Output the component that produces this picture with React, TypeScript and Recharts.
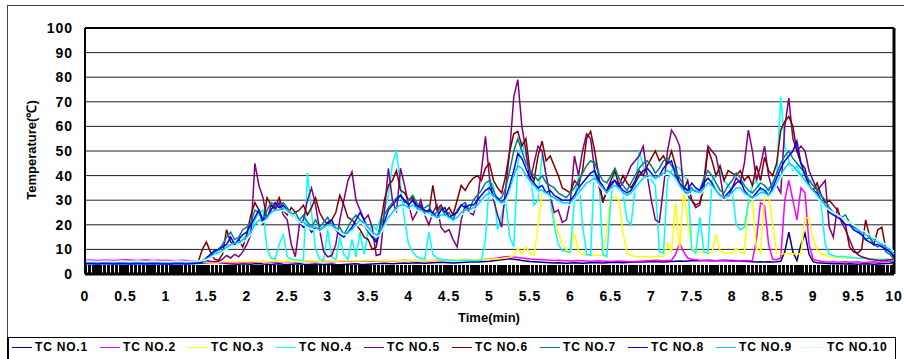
import React from "react";
import { LineChart, Line, XAxis, YAxis, CartesianGrid, ReferenceLine } from "recharts";

// time axis: one sample every 0.05 min
const TIME = Array.from({ length: 201 }, (_, i) => Math.round(i * 5) / 100);
const X_TICKS = [0, 0.5, 1, 1.5, 2, 2.5, 3, 3.5, 4, 4.5, 5, 5.5, 6, 6.5, 7, 7.5, 8, 8.5, 9, 9.5, 10];
const Y_TICKS = [0, 10, 20, 30, 40, 50, 60, 70, 80, 90, 100];

const TC1 = [
  4.3, 4.4, 4.3, 4.2, 4.3, 4.4, 4.3, 4.3, 4.2, 4.3, 4.4, 4.3, 4.2, 4.3, 4.3, 4.4, 4.3, 4.2, 4.3, 4.3,
  4.3, 4.2, 4.3, 4.4, 4.3, 4.2, 4.3, 4.3, 4.4, 4.5, 4.6, 4.8, 5.0, 4.7, 4.5, 4.3, 4.2, 4.1, 4.0, 4.2,
  4.1, 4.0, 4.2, 4.3, 4.1, 4.0, 3.9, 4.1, 4.2, 4.0, 3.9, 4.0, 4.1, 4.2, 4.0, 3.9, 4.0, 4.1, 4.0, 3.9,
  4.0, 4.1, 3.9, 3.8, 3.9, 4.0, 4.1, 4.2, 4.0, 3.9, 4.0, 4.1, 4.2, 4.3, 4.4, 4.3, 4.2, 4.3, 4.4, 4.5,
  4.4, 4.5, 4.6, 4.5, 4.4, 4.5, 4.6, 4.7, 4.8, 4.7, 4.6, 4.5, 4.6, 4.7, 4.8, 4.9, 5.0, 4.9, 5.0, 5.1,
  5.2, 5.4, 5.6, 5.8, 6.0, 6.2, 6.0, 5.8, 5.5, 5.3, 5.1, 5.0, 4.9, 4.8, 4.7, 4.6, 4.5, 4.6, 4.5, 4.4,
  4.5, 4.6, 4.5, 4.4, 4.5, 4.6, 4.7, 4.6, 4.5, 4.6, 4.7, 4.8, 4.7, 4.6, 4.7, 4.8, 4.9, 5.0, 4.9, 5.0,
  5.0, 5.1, 5.0, 4.9, 5.0, 5.1, 5.2, 5.3, 5.2, 5.3, 5.4, 5.5, 5.4, 5.5, 5.6, 5.5, 5.4, 5.5, 5.6, 5.5,
  5.5, 5.4, 5.3, 5.2, 5.1, 5.0, 4.9, 5.0, 4.9, 5.0, 4.9, 5.0, 5.2, 9.0, 17.0, 9.0, 5.5, 12.0, 16.5, 8.0,
  5.0, 4.6, 4.5, 4.4, 4.3, 4.2, 4.3, 4.2, 4.1, 4.2, 4.1, 4.0, 4.1, 4.2, 4.1, 4.0, 4.1, 4.2, 4.3, 4.4,
  4.8,
];

const TC2 = [
  5.6, 5.7, 5.6, 5.5, 5.6, 5.7, 5.6, 5.5, 5.6, 5.7, 5.8, 5.7, 5.6, 5.5, 5.6, 5.7, 5.6, 5.5, 5.6, 5.5,
  5.6, 5.5, 5.4, 5.5, 5.6, 5.5, 5.4, 5.3, 5.2, 5.0, 4.8, 4.6, 4.7, 4.8, 4.7, 4.6, 4.5, 4.6, 4.7, 4.6,
  4.7, 4.8, 4.9, 5.0, 5.1, 5.0, 4.9, 4.8, 4.9, 5.0, 5.1, 5.0, 4.9, 5.0, 5.1, 5.2, 5.1, 5.0, 5.1, 5.2,
  5.1, 5.0, 5.1, 5.2, 5.3, 5.2, 5.1, 5.2, 5.3, 5.4, 5.3, 5.2, 5.3, 5.4, 5.5, 5.4, 5.3, 5.4, 5.5, 5.6,
  5.5, 5.4, 5.5, 5.6, 5.5, 5.4, 5.5, 5.6, 5.7, 5.6, 5.5, 5.6, 5.7, 5.8, 5.9, 5.8, 5.7, 5.8, 5.9, 6.0,
  6.1, 6.3, 6.5, 6.8, 7.0, 7.1, 6.9, 6.7, 6.5, 6.3, 6.1, 6.0, 5.9, 5.8, 5.7, 5.6, 5.5, 5.6, 5.5, 5.4,
  5.3, 5.4, 5.5, 5.4, 5.3, 5.2, 5.3, 5.4, 5.3, 5.2, 5.1, 5.2, 5.3, 5.2, 5.1, 5.0, 5.1, 5.2, 5.3, 5.4,
  5.5, 5.6, 5.5, 5.4, 5.5, 5.6, 8.0, 12.5, 9.0, 6.5, 6.0, 5.8, 5.6, 5.5, 5.4, 5.3, 5.4, 5.5, 5.4, 5.3,
  5.2, 5.3, 5.4, 5.5, 5.4, 5.5, 14.0, 29.0, 28.0, 12.0, 6.0, 5.8, 6.5, 30.0, 38.0, 30.0, 22.0, 35.0, 33.0, 12.0,
  6.0, 5.5, 5.2, 5.0, 4.9, 5.0, 4.8, 4.9, 5.0, 4.8, 4.9, 5.0, 4.8, 4.7, 4.9, 5.0, 4.8, 4.9, 5.0, 5.2,
  5.5,
];

const TC3 = [
  4.8, 4.9, 4.8, 4.7, 4.8, 4.9, 4.8, 4.7, 4.8, 4.9, 4.8, 4.7, 4.8, 4.9, 4.8, 4.7, 4.8, 4.9, 4.8, 4.7,
  4.8, 4.7, 4.8, 4.9, 4.8, 4.7, 4.6, 4.7, 4.8, 4.9, 5.0, 4.9, 4.8, 4.9, 5.0, 5.1, 5.0, 4.9, 5.0, 5.1,
  5.0, 5.1, 5.2, 5.1, 5.0, 5.1, 5.2, 5.3, 5.2, 5.1, 5.2, 5.3, 5.2, 5.1, 5.2, 5.3, 5.4, 5.3, 5.2, 5.3,
  5.4, 5.3, 5.2, 5.3, 5.4, 5.5, 5.4, 5.3, 5.4, 5.5, 5.6, 5.5, 5.4, 5.5, 5.6, 5.5, 5.4, 5.5, 5.6, 5.5,
  5.6, 5.5, 5.6, 5.7, 5.6, 5.5, 5.6, 5.7, 5.8, 5.7, 5.6, 5.7, 5.8, 5.9, 5.8, 5.7, 5.8, 5.9, 6.0, 5.9,
  6.0, 6.1, 6.2, 6.3, 6.5, 6.8, 7.5, 10.5, 8.0, 11.0, 8.5, 7.5, 20.0, 33.0, 33.5, 32.5, 22.0, 17.0, 12.0, 10.0,
  8.5, 16.5, 9.0, 8.0, 7.8, 7.6, 7.5, 7.6, 7.4, 18.0, 31.0, 31.5, 30.0, 17.0, 8.5, 7.5, 7.2, 7.0, 7.1, 7.0,
  7.1, 7.0, 7.2, 7.1, 12.5, 9.0, 29.0, 10.0, 35.0, 21.0, 11.0, 9.0, 8.8, 8.6, 8.5, 8.6, 16.0, 9.5, 8.6, 8.5,
  8.4, 10.5, 8.6, 8.5, 29.0, 29.5, 10.0, 8.5, 32.0, 32.5, 20.0, 8.5, 8.3, 8.2, 8.3, 8.2, 8.1, 8.2, 23.0, 22.5,
  14.0, 10.0, 8.0, 7.5, 7.0, 6.8, 6.7, 6.6, 6.5, 6.4, 6.5, 6.4, 6.3, 6.2, 6.3, 6.2, 6.1, 6.0, 6.1, 6.0,
  6.0,
];

const TC4 = [
  5.0, 5.1, 5.0, 4.9, 5.0, 5.1, 5.0, 4.9, 5.0, 5.1, 5.0, 4.9, 5.0, 5.1, 5.0, 4.9, 5.0, 5.1, 5.0, 4.9,
  5.0, 4.9, 5.0, 5.1, 5.0, 4.9, 5.0, 5.0, 5.2, 5.6, 6.5, 7.5, 8.0, 9.5, 11.0, 10.0, 12.0, 13.0, 12.5, 14.0,
  16.0, 18.0, 22.0, 25.0, 26.0, 10.0, 6.5, 6.0, 12.0, 16.0, 7.0, 6.0, 5.8, 5.6, 5.5, 41.0, 25.0, 10.0, 6.0, 5.5,
  18.0, 7.0, 5.8, 15.0, 8.0, 6.0, 14.0, 7.0, 17.0, 8.0, 17.0, 20.0, 18.0, 22.0, 26.0, 32.0, 45.0, 50.0, 36.0, 22.0,
  12.0, 9.0, 7.0, 6.5, 6.0, 17.0, 8.0, 6.5, 6.0, 5.8, 5.6, 5.5, 5.4, 5.5, 5.6, 5.5, 5.4, 5.5, 5.6, 14.0,
  38.0, 36.0, 18.0, 24.0, 30.0, 15.0, 11.0, 45.0, 54.0, 48.0, 42.0, 28.0, 30.0, 49.0, 40.0, 30.0, 20.0, 12.0, 9.5, 9.0,
  9.0, 30.0, 40.0, 20.0, 8.0, 7.5, 46.0, 42.0, 8.0, 7.0, 30.0, 43.0, 36.0, 33.0, 22.0, 20.0, 35.0, 50.0, 44.0, 40.0,
  38.0, 36.0, 9.0, 8.5, 38.0, 42.0, 44.0, 43.0, 40.0, 38.0, 10.0, 8.5, 23.0, 9.0, 8.5, 38.0, 40.0, 42.0, 38.0, 36.0,
  34.0, 20.0, 18.0, 19.0, 29.0, 36.0, 38.0, 34.0, 33.0, 35.0, 36.0, 40.0, 72.0, 52.0, 46.0, 42.0, 44.0, 40.0, 42.0, 38.0,
  38.0, 35.0, 28.0, 12.0, 8.0, 7.5, 7.0, 7.2, 7.0, 6.8, 6.6, 6.5, 6.4, 6.3, 6.2, 6.0, 5.9, 5.8, 6.0, 5.8,
  5.5,
];

const TC5 = [
  4.5, 4.6, 4.5, 4.4, 4.5, 4.6, 4.5, 4.4, 4.5, 4.6, 4.5, 4.4, 4.5, 4.6, 4.5, 4.4, 4.5, 4.6, 4.5, 4.4,
  4.5, 4.4, 4.5, 4.6, 4.5, 4.4, 4.5, 4.6, 4.8, 5.2, 5.5, 5.2, 5.0, 5.2, 6.0, 7.5, 6.5, 8.0, 7.0, 9.0,
  12.0, 16.0, 45.0, 36.0, 31.0, 22.0, 28.0, 26.0, 29.0, 24.0, 22.0, 12.0, 7.0, 20.0, 22.0, 30.0, 35.0, 28.0, 18.0, 9.0,
  7.0, 7.5, 12.0, 22.0, 30.0, 38.0, 41.5, 30.0, 26.0, 22.0, 24.0, 19.0, 7.5, 8.0, 25.0, 43.0, 30.0, 25.0, 43.0, 36.0,
  28.0, 22.0, 25.0, 30.0, 24.0, 20.0, 25.0, 28.0, 19.0, 17.0, 18.0, 14.0, 11.0, 22.0, 28.0, 25.0, 24.0, 30.0, 42.0, 56.0,
  39.0, 30.0, 24.0, 19.0, 35.0, 50.0, 72.0, 79.0, 60.0, 50.0, 38.0, 45.0, 52.0, 50.0, 40.0, 32.0, 25.0, 26.0, 21.0, 22.0,
  30.0, 48.0, 40.0, 50.0, 57.0, 55.0, 42.0, 36.0, 30.0, 33.0, 36.0, 38.0, 35.0, 37.0, 40.0, 44.0, 46.0, 48.0, 52.0, 40.0,
  30.0, 22.0, 21.0, 35.0, 50.0, 58.5, 56.0, 52.0, 34.0, 32.0, 30.0, 27.0, 28.0, 38.0, 52.0, 50.0, 48.0, 40.0, 30.0, 31.0,
  35.0, 39.0, 37.0, 45.0, 58.5, 50.0, 38.0, 44.0, 52.0, 40.0, 34.0, 36.0, 33.0, 60.0, 71.5, 55.0, 50.0, 52.0, 50.0, 42.0,
  38.0, 34.0, 36.0, 38.0, 19.0, 15.0, 27.0, 21.0, 18.0, 14.0, 10.0, 8.0, 7.0, 6.5, 6.0, 5.8, 5.6, 5.5, 5.6, 5.8,
  6.0,
];

const TC6 = [
  4.6, 4.5, 4.6, 4.7, 4.6, 4.5, 4.6, 4.7, 4.6, 4.5, 4.6, 4.7, 4.6, 4.5, 4.6, 4.7, 4.6, 4.5, 4.6, 4.7,
  4.6, 4.5, 4.6, 4.7, 4.6, 4.5, 4.6, 4.7, 5.0, 10.0, 13.0, 9.0, 6.0, 5.5, 8.0, 18.0, 13.0, 12.0, 14.0, 11.0,
  16.0, 24.0, 29.0, 26.0, 20.0, 31.0, 28.0, 27.0, 31.0, 26.0, 24.0, 27.0, 25.0, 26.0, 28.0, 24.0, 27.0, 31.0, 25.0, 22.0,
  20.0, 22.0, 25.0, 32.0, 28.0, 23.0, 22.0, 20.0, 18.0, 15.0, 14.0, 10.0, 11.0, 20.0, 30.0, 36.0, 38.0, 42.0, 34.0, 33.0,
  30.0, 31.0, 28.0, 27.0, 26.0, 25.0, 36.0, 26.0, 28.0, 25.0, 27.0, 24.0, 30.0, 36.0, 34.0, 37.0, 39.0, 40.0, 38.0, 43.0,
  45.0, 38.0, 35.0, 33.0, 40.0, 50.0, 57.0, 58.0, 52.0, 55.0, 42.0, 38.0, 48.0, 54.0, 46.0, 48.0, 44.0, 40.0, 35.0, 34.0,
  33.0, 38.0, 36.0, 42.0, 55.0, 58.0, 50.0, 40.0, 29.0, 34.0, 38.0, 42.0, 36.0, 40.0, 37.0, 35.0, 38.0, 42.0, 40.0, 44.0,
  47.0, 50.0, 46.0, 48.0, 45.0, 50.0, 44.0, 36.0, 34.0, 38.0, 30.0, 28.0, 29.0, 35.0, 51.0, 46.0, 40.0, 44.0, 38.0, 42.0,
  41.0, 40.0, 42.0, 38.0, 40.0, 36.0, 44.0, 38.0, 47.5, 42.0, 40.0, 45.0, 58.5, 62.0, 64.0, 60.0, 50.0, 45.0, 43.0, 36.0,
  34.0, 37.0, 32.0, 29.0, 30.0, 28.0, 26.0, 22.0, 20.0, 11.0, 9.0, 8.5, 10.0, 22.0, 15.0, 12.0, 18.0, 19.0, 10.0, 9.0,
  8.0,
];

const TC7 = [
  4.4, 4.5, 4.4, 4.3, 4.4, 4.5, 4.4, 4.3, 4.4, 4.5, 4.4, 4.3, 4.4, 4.5, 4.4, 4.3, 4.4, 4.5, 4.4, 4.3,
  4.4, 4.3, 4.4, 4.5, 4.4, 4.3, 4.4, 4.5, 4.6, 5.0, 6.0, 7.5, 9.0, 10.0, 12.0, 15.0, 17.0, 14.0, 15.0, 18.0,
  19.0, 21.0, 26.0, 25.0, 21.0, 26.0, 29.0, 28.0, 27.0, 29.0, 27.0, 24.0, 25.0, 22.0, 24.0, 21.0, 19.0, 22.0, 19.0, 21.0,
  23.0, 20.0, 18.0, 19.0, 16.0, 19.0, 22.0, 24.0, 22.0, 20.0, 17.0, 15.0, 14.0, 19.0, 24.0, 27.0, 29.0, 31.0, 32.0, 29.0,
  30.0, 32.0, 29.0, 26.0, 27.0, 28.0, 24.0, 25.0, 27.0, 24.0, 25.0, 22.0, 26.0, 28.0, 29.0, 26.0, 30.0, 32.0, 34.0, 37.0,
  38.0, 34.0, 30.0, 31.0, 35.0, 42.0, 50.0, 55.0, 50.0, 45.0, 42.0, 40.0, 38.0, 40.0, 37.0, 36.0, 35.0, 33.0, 32.0, 31.0,
  33.0, 35.0, 38.0, 41.0, 44.0, 46.0, 45.0, 41.0, 38.0, 37.0, 40.0, 43.0, 39.0, 36.0, 34.0, 37.0, 40.0, 43.0, 45.0, 46.0,
  44.0, 41.0, 43.0, 46.0, 47.0, 44.0, 42.0, 39.0, 36.0, 34.0, 35.0, 33.0, 34.0, 39.0, 42.0, 40.0, 37.0, 34.0, 33.0, 36.0,
  38.0, 41.0, 39.0, 36.0, 34.0, 33.0, 35.0, 37.0, 36.0, 34.0, 37.0, 41.0, 45.0, 48.0, 50.0, 47.0, 45.0, 43.0, 41.0, 38.0,
  36.0, 34.0, 32.0, 30.0, 27.0, 25.0, 24.0, 23.0, 24.0, 21.0, 19.0, 18.0, 16.0, 14.0, 15.0, 12.0, 11.0, 12.0, 9.0, 8.0,
  6.0,
];

const TC8 = [
  4.2, 4.3, 4.2, 4.1, 4.2, 4.3, 4.2, 4.1, 4.2, 4.3, 4.2, 4.1, 4.2, 4.3, 4.2, 4.1, 4.2, 4.3, 4.2, 4.1,
  4.2, 4.1, 4.2, 4.3, 4.2, 4.1, 4.2, 4.3, 4.4, 4.8, 6.5, 8.0, 9.5, 10.0, 11.0, 12.0, 15.0, 12.0, 14.0, 16.0,
  17.0, 20.0, 23.0, 26.0, 22.0, 23.0, 26.0, 29.0, 27.0, 28.0, 26.0, 24.0, 23.0, 21.0, 19.0, 20.0, 17.0, 19.0, 18.0, 19.0,
  21.0, 22.0, 18.0, 16.0, 15.0, 17.0, 19.0, 22.0, 25.0, 22.0, 18.0, 15.0, 13.0, 17.0, 21.0, 26.0, 28.0, 30.0, 32.0, 30.0,
  28.0, 30.0, 27.0, 28.0, 25.0, 26.0, 25.0, 23.0, 26.0, 27.0, 23.0, 24.0, 25.0, 28.0, 27.0, 28.0, 28.0, 30.0, 32.0, 34.0,
  35.0, 32.0, 31.0, 29.0, 31.0, 36.0, 42.0, 49.0, 47.0, 43.0, 39.0, 37.0, 35.0, 36.0, 33.0, 34.0, 32.0, 31.0, 30.0, 30.0,
  30.0, 32.0, 35.0, 37.0, 39.0, 41.0, 42.0, 38.0, 36.0, 33.0, 37.0, 38.0, 36.0, 34.0, 33.0, 34.0, 37.0, 40.0, 42.0, 43.0,
  41.0, 39.0, 40.0, 43.0, 45.0, 46.0, 40.0, 37.0, 35.0, 34.0, 37.0, 35.0, 34.0, 37.0, 39.0, 37.0, 34.0, 32.0, 31.0, 33.0,
  35.0, 37.0, 38.0, 34.0, 32.0, 31.0, 33.0, 35.0, 34.0, 32.0, 35.0, 39.0, 43.0, 46.0, 48.0, 50.0, 54.0, 45.0, 40.0, 36.0,
  34.0, 33.0, 30.0, 28.0, 25.0, 24.0, 23.0, 22.0, 20.0, 20.0, 18.0, 17.0, 16.0, 14.0, 13.0, 12.0, 12.0, 11.0, 10.0, 9.0,
  7.0,
];

const TC9 = [
  4.9, 5.0, 4.9, 4.8, 4.9, 5.0, 4.9, 4.8, 4.9, 5.0, 4.9, 4.8, 4.9, 5.0, 4.9, 4.8, 4.9, 5.0, 4.9, 4.8,
  4.9, 4.8, 4.9, 5.0, 4.9, 4.8, 4.9, 5.0, 5.1, 5.4, 6.0, 7.0, 8.0, 8.5, 9.5, 11.0, 12.0, 12.5, 13.0, 14.0,
  15.0, 17.0, 20.0, 22.0, 21.0, 23.0, 25.0, 26.0, 26.0, 27.0, 26.0, 25.0, 23.0, 22.0, 21.0, 20.0, 19.0, 19.0, 18.0, 19.0,
  20.0, 20.0, 19.0, 17.0, 16.0, 17.0, 18.0, 20.0, 22.0, 21.0, 19.0, 17.0, 16.0, 17.0, 20.0, 23.0, 25.0, 27.0, 28.0, 28.0,
  27.0, 28.0, 27.0, 26.0, 25.0, 25.0, 24.0, 23.0, 24.0, 24.0, 23.0, 22.0, 23.0, 25.0, 26.0, 26.0, 27.0, 28.0, 30.0, 32.0,
  33.0, 32.0, 30.0, 29.0, 30.0, 34.0, 40.0, 44.0, 43.0, 40.0, 38.0, 36.0, 34.0, 34.0, 33.0, 32.0, 31.0, 30.0, 29.0, 29.0,
  29.0, 31.0, 33.0, 35.0, 37.0, 38.0, 39.0, 37.0, 35.0, 33.0, 35.0, 36.0, 35.0, 33.0, 32.0, 33.0, 35.0, 37.0, 39.0, 40.0,
  40.0, 39.0, 40.0, 41.0, 42.0, 41.0, 39.0, 36.0, 34.0, 33.0, 34.0, 34.0, 33.0, 35.0, 37.0, 36.0, 34.0, 32.0, 31.0, 32.0,
  33.0, 35.0, 35.0, 33.0, 32.0, 31.0, 32.0, 33.0, 33.0, 32.0, 34.0, 37.0, 40.0, 43.0, 45.0, 44.0, 42.0, 40.0, 38.0, 36.0,
  34.0, 32.0, 30.0, 28.0, 26.0, 25.0, 24.0, 23.0, 22.0, 21.0, 20.0, 18.0, 17.0, 16.0, 15.0, 14.0, 13.0, 12.0, 11.0, 10.0,
  8.0,
];

const TC10 = [
  5.2, 5.3, 5.2, 5.1, 5.2, 5.3, 5.2, 5.1, 5.2, 5.3, 5.2, 5.1, 5.2, 5.3, 5.2, 5.1, 5.2, 5.3, 5.2, 5.1,
  5.2, 5.1, 5.2, 5.3, 5.2, 5.1, 5.2, 5.3, 5.3, 5.5, 5.8, 6.5, 7.5, 8.0, 9.0, 10.0, 11.0, 11.5, 12.0, 13.0,
  14.0, 16.0, 18.0, 20.0, 21.0, 22.0, 24.0, 25.0, 25.0, 26.0, 25.0, 24.0, 23.0, 21.0, 20.0, 19.0, 18.0, 18.0, 17.0, 18.0,
  19.0, 19.0, 18.0, 17.0, 16.0, 16.0, 17.0, 19.0, 21.0, 20.0, 18.0, 16.0, 15.0, 16.0, 19.0, 22.0, 24.0, 26.0, 27.0, 27.0,
  26.0, 27.0, 26.0, 25.0, 24.0, 24.0, 23.0, 22.0, 23.0, 23.0, 22.0, 21.0, 22.0, 24.0, 25.0, 25.0, 26.0, 27.0, 29.0, 31.0,
  32.0, 31.0, 29.0, 28.0, 29.0, 33.0, 38.0, 42.0, 41.0, 38.0, 36.0, 35.0, 33.0, 33.0, 32.0, 31.0, 30.0, 29.0, 28.0, 28.0,
  28.0, 30.0, 32.0, 34.0, 36.0, 37.0, 38.0, 36.0, 34.0, 32.0, 34.0, 35.0, 34.0, 32.0, 31.0, 32.0, 34.0, 36.0, 38.0, 39.0,
  39.0, 38.0, 39.0, 40.0, 41.0, 40.0, 38.0, 35.0, 33.0, 32.0, 33.0, 33.0, 32.0, 34.0, 36.0, 35.0, 33.0, 31.0, 30.0, 31.0,
  32.0, 34.0, 34.0, 32.0, 31.0, 30.0, 31.0, 32.0, 32.0, 31.0, 33.0, 36.0, 39.0, 42.0, 44.0, 43.0, 41.0, 39.0, 37.0, 35.0,
  33.0, 31.0, 29.0, 27.0, 26.0, 25.0, 24.0, 23.0, 22.0, 21.0, 20.0, 19.0, 18.0, 17.0, 16.0, 15.0, 14.0, 13.0, 12.0, 11.0,
  9.0,
];

const SERIES = [
  { key: "tc1", name: "TC NO.1", color: "#000080", values: TC1 },
  { key: "tc2", name: "TC NO.2", color: "#FF00FF", values: TC2 },
  { key: "tc3", name: "TC NO.3", color: "#FFFF00", values: TC3 },
  { key: "tc4", name: "TC NO.4", color: "#00FFFF", values: TC4 },
  { key: "tc5", name: "TC NO.5", color: "#800080", values: TC5 },
  { key: "tc6", name: "TC NO.6", color: "#800000", values: TC6 },
  { key: "tc7", name: "TC NO.7", color: "#008080", values: TC7 },
  { key: "tc8", name: "TC NO.8", color: "#0000FF", values: TC8 },
  { key: "tc9", name: "TC NO.9", color: "#00CCFF", values: TC9 },
  { key: "tc10", name: "TC NO.10", color: "#CCFFFF", values: TC10 },
];

const data = TIME.map((t, i) => {
  const row: Record<string, number> = { t };
  SERIES.forEach((s) => {
    row[s.key] = s.values[i];
  });
  return row;
});

const FONT = '"Liberation Sans", Arial, sans-serif';

function TimeTick({ x, y, payload }: any) {
  return (
    <text
      x={x}
      y={y + 27}
      textAnchor="middle"
      fontFamily={FONT}
      fontWeight="bold"
      fontSize={14}
      letterSpacing={1}
      fill="#000"
    >
      {String(payload.value)}
    </text>
  );
}

export default function App() {
  return (
    <div
      style={{
        position: "absolute",
        left: 0,
        top: 0,
        width: 904,
        height: 359,
        overflow: "hidden",
        background: "#fff",
        fontFamily: FONT,
      }}
    >
      {/* outer chart frame */}
      <div
        style={{
          position: "absolute",
          left: 7,
          top: 5,
          width: 1000,
          height: 332,
          borderTop: "1px solid #444",
          borderLeft: "1px solid #444",
        }}
      />
      <LineChart
        width={904}
        height={330}
        data={data}
        margin={{ top: 28, right: 10, left: 0, bottom: 0 }}
        style={{ position: "absolute", left: 0, top: 0 }}
      >
        <CartesianGrid vertical={false} stroke="#222" strokeWidth={1} />
        <XAxis
          dataKey="t"
          type="number"
          domain={[0, 10]}
          ticks={X_TICKS}
          interval={0}
          height={56}
          tickSize={0}
          tickMargin={0}
          tickLine={false}
          tick={<TimeTick />}
          axisLine={{ stroke: "#000", strokeWidth: 3 }}
        />
        <YAxis
          type="number"
          domain={[0, 100]}
          ticks={Y_TICKS}
          interval={0}
          width={85}
          tickSize={0}
          tickMargin={12}
          tickLine={false}
          axisLine={{ stroke: "#000", strokeWidth: 2 }}
          tick={{ fill: "#000", fontSize: 14, fontWeight: "bold", fontFamily: FONT, letterSpacing: 1 }}
        />
        <ReferenceLine y={100} stroke="#000" strokeWidth={2} />
        <ReferenceLine x={10} stroke="#000" strokeWidth={3} />
        {SERIES.map((s) => (
          <Line
            key={s.key}
            type="linear"
            dataKey={s.key}
            name={s.name}
            stroke={s.color}
            strokeWidth={1.5}
            dot={false}
            isAnimationActive={false}
          />
        ))}
      </LineChart>
      {/* dense per-sample tick marks along the time axis */}
      <div
        style={{
          position: "absolute",
          left: 85,
          top: 265,
          width: 809,
          height: 9,
          background:
            "repeating-linear-gradient(90deg, #000 0px, #000 1.1px, rgba(0,0,0,0) 1.1px, rgba(0,0,0,0) 1.35px)",
        }}
      />
      {/* axis titles */}
      <div
        style={{
          position: "absolute",
          left: 429,
          top: 311,
          width: 120,
          textAlign: "center",
          fontSize: 13,
          fontWeight: "bold",
          lineHeight: "14px",
        }}
      >
        Time(min)
      </div>
      <div
        style={{
          position: "absolute",
          left: 32,
          top: 150,
          width: 140,
          marginLeft: -70,
          marginTop: -7,
          textAlign: "center",
          fontSize: 13,
          fontWeight: "bold",
          lineHeight: "14px",
          transform: "rotate(-90deg)",
        }}
      >
        Temperature(℃)
      </div>
      {/* legend */}
      <div
        style={{
          position: "absolute",
          left: 7,
          top: 337,
          width: 886,
          height: 40,
          border: "1px solid #000",
          borderLeftWidth: 2,
        }}
      />
      {SERIES.map((s, i) => (
        <div
          key={s.key}
          style={{
            position: "absolute",
            left: 12 + i * 88,
            top: 340,
            height: 14,
            display: "flex",
            alignItems: "center",
            whiteSpace: "nowrap",
          }}
        >
          <span style={{ display: "inline-block", width: 20, height: 1, background: s.color, marginRight: 3 }} />
          <span style={{ fontSize: 12, fontWeight: "bold", letterSpacing: 0.8, lineHeight: "14px" }}>{s.name}</span>
        </div>
      ))}
    </div>
  );
}
